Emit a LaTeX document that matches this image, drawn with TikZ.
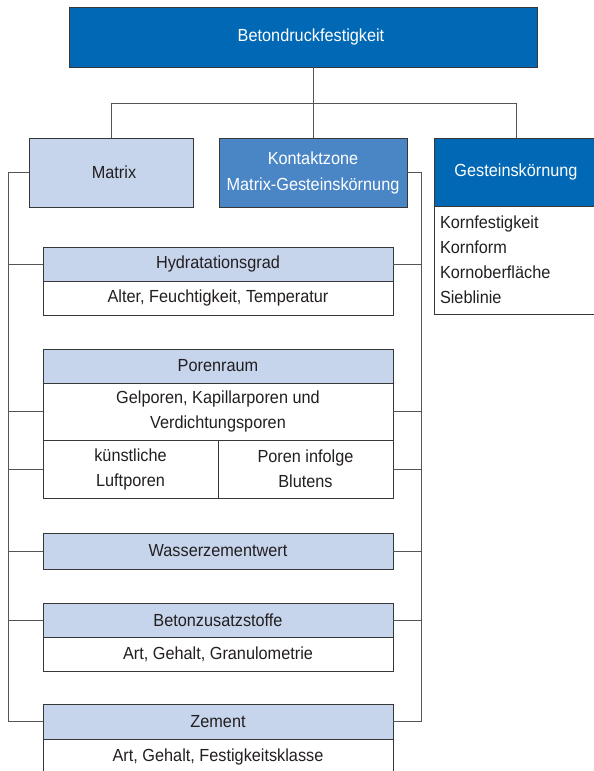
\documentclass[tikz,border=0pt]{standalone}
\usepackage{fontspec}
\setmainfont{Liberation Sans}[FakeStretch=0.93]
\usetikzlibrary{positioning}

\definecolor{blaudunkel}{RGB}{0,104,180}
\definecolor{blaumittel}{RGB}{74,134,198}
\definecolor{blauhell}{RGB}{198,213,236}
\definecolor{linie}{RGB}{55,55,55}
\definecolor{verbinder}{RGB}{85,85,85}
\definecolor{schrift}{RGB}{35,31,32}

\begin{document}
\begin{tikzpicture}[x=1pt, y=-1pt,
  font=\fontsize{17.5}{25}\selectfont, text=schrift,
  box/.style={draw=linie, line width=0.8pt, inner sep=0pt, outer sep=0pt, align=center},
  dunkel/.style={box, fill=blaudunkel, text=white},
  mittel/.style={box, fill=blaumittel, text=white},
  kopf/.style={box, fill=blauhell, minimum width=350pt, minimum height=34pt},
  inhalt/.style={box, fill=white, minimum width=350pt, minimum height=34pt},
  zelle/.style={box, fill=white, minimum width=175pt, minimum height=58pt},
  ast/.style={draw=verbinder, line width=1pt}]
\useasboundingbox (0,0) rectangle (594,771);

% Oberste Ebene
\node[dunkel, anchor=north west, minimum width=468pt, minimum height=60pt] (festigkeit) at (69,7) {\hspace*{16pt}Betondruckfestigkeit};
\node[box, fill=blauhell, anchor=north west, minimum width=164pt, minimum height=69pt] (matrix) at (29,138) {\hspace*{6pt}Matrix};
\node[mittel, anchor=north west, minimum width=188pt, minimum height=69pt, font=\fontsize{17.5}{26}\selectfont] (kontakt) at (219,138) {Kontaktzone\\Matrix-Gesteinskörnung};
\node[dunkel, anchor=north west, minimum width=164pt, minimum height=68pt] (gestein) at (434,138) {Gesteinskörnung};
\node[box, fill=white, anchor=north west, minimum height=108pt, text width=152pt, inner xsep=6pt, align=left] (korn) at (gestein.south west) {Kornfestigkeit\\Kornform\\Kornoberfläche\\Sieblinie};

% Einflussgroessen der Matrix
\node[kopf, anchor=north west] (hydratation) at (43,247) {Hydratationsgrad};
\node[inhalt, below=0pt of hydratation] (hydratation-info) {Alter, Feuchtigkeit, Temperatur};

\node[kopf, anchor=north west] (poren) at (43,349) {Porenraum};
\node[inhalt, minimum height=57pt, below=0pt of poren] (poren-info) {Gelporen, Kapillarporen und\\Verdichtungsporen};
\node[zelle, anchor=north west] (luftporen) at (poren-info.south west) {künstliche\\Luftporen};
\node[zelle, anchor=north east] (bluten) at (poren-info.south east) {Poren infolge\\Blutens};

\node[kopf, minimum height=36pt, anchor=north west] (wz) at (43,533) {Wasserzementwert};

\node[kopf, anchor=north west] (zusatz) at (43,603) {Betonzusatzstoffe};
\node[inhalt, below=0pt of zusatz] (zusatz-info) {Art, Gehalt, Granulometrie};

\node[kopf, minimum height=35pt, anchor=north west] (zement) at (43,704) {Zement};
\node[inhalt, minimum height=36pt, below=0pt of zement] (zement-info) {Art, Gehalt, Festigkeitsklasse};

% Verbindungen
\coordinate (schiene) at (0,103);
\coordinate (links) at (8,0);
\coordinate (rechts) at (421,0);
\draw[ast] (matrix.north) |- (schiene -| gestein.north) -- (gestein.north);
\draw[ast] (kontakt.north) -- (kontakt.north |- festigkeit.south);
\draw[ast] (matrix.west) -| (links |- zement.west) -- (zement.west);
\draw[ast] (kontakt.east) -| (rechts |- zement.east) -- (zement.east);
\foreach \n in {hydratation, poren-info, luftporen, wz, zusatz}
  \draw[ast] (\n.west) -- (\n.west -| links);
\foreach \n in {hydratation, poren-info, bluten, wz, zusatz}
  \draw[ast] (\n.east) -- (\n.east -| rechts);
\end{tikzpicture}
\end{document}
